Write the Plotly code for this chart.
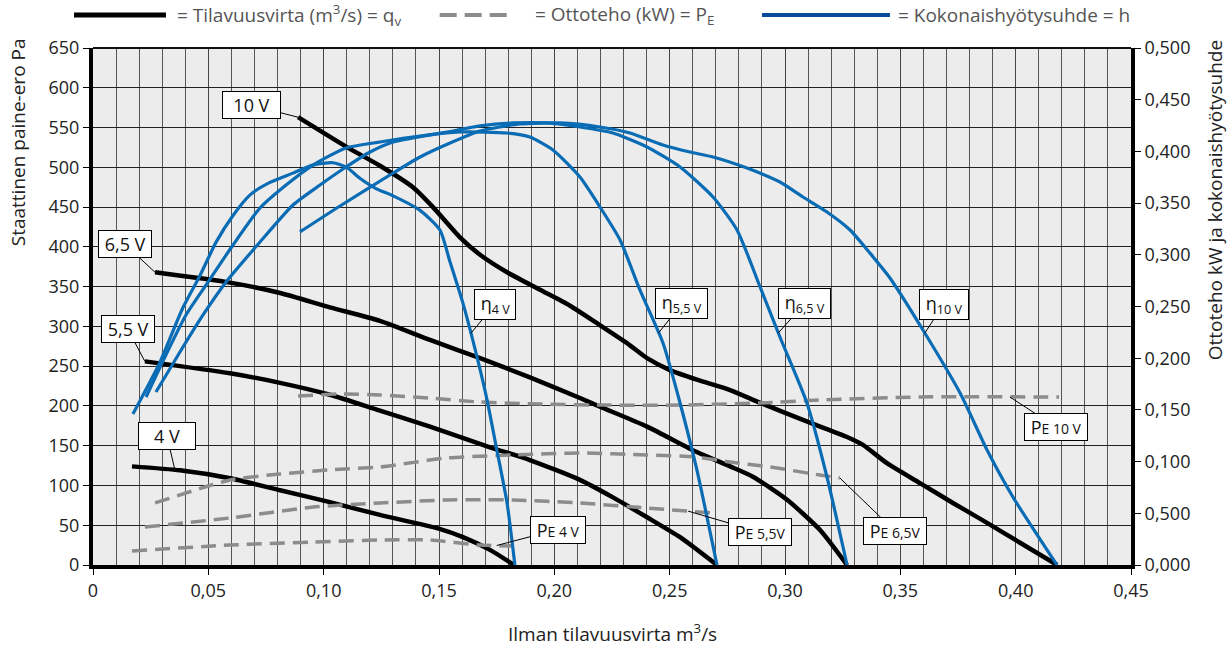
import numpy as np
import plotly.graph_objects as go

# ---------------- DATA ----------------
# Static pressure (Pa) vs air flow (m3/s) - left axis
q_10v = [0.0889, 0.1097, 0.1244, 0.1387, 0.1474, 0.1591, 0.1678, 0.1795, 0.1938, 0.2068, 0.2185, 0.2315,
         0.2402, 0.2501, 0.2618, 0.2762, 0.2892, 0.3108, 0.3269, 0.3338, 0.3442, 0.3585, 0.3728, 0.3876, 0.4019, 0.418]
p_10v = [563, 526, 502, 475, 450, 412, 390, 368, 346, 326, 304, 279,
         260, 245, 233, 220, 204, 179, 161, 151, 128, 103, 78, 53, 28, 0]

q_65v = [0.0269, 0.0594, 0.0811, 0.1027, 0.1244, 0.1461, 0.1678, 0.1894, 0.2111, 0.2198, 0.2402, 0.2618,
         0.2762, 0.2861, 0.3009, 0.3152, 0.3269]
p_65v = [368, 355, 342, 324, 307, 283, 260, 236, 210, 199, 174, 142, 124, 111, 82, 44, 0]

q_55v = [0.0225, 0.0594, 0.0811, 0.1027, 0.1244, 0.1461, 0.1721, 0.1894, 0.2111, 0.2254, 0.2402, 0.2545, 0.2705]
p_55v = [256, 241, 229, 214, 194, 174, 148, 132, 107, 85, 60, 35, 0]

q_4v = [0.0169, 0.0377, 0.0594, 0.0811, 0.1027, 0.1244, 0.1495, 0.1604, 0.1721, 0.1825]
p_4v = [124, 119, 109, 94, 79, 63, 46, 35, 19, 0]

# Total efficiency (right axis)
qe_4v = [0.0173, 0.0290, 0.0390, 0.0464, 0.0533, 0.0607, 0.0681, 0.0767, 0.0867, 0.0954, 0.1040, 0.1097,
         0.1157, 0.1227, 0.1301, 0.1418, 0.1504, 0.1548, 0.1604, 0.1665, 0.1708, 0.1751, 0.1795, 0.1829]
eta_4v = [0.146, 0.196, 0.249, 0.280, 0.312, 0.338, 0.358, 0.370, 0.379, 0.387, 0.389, 0.385,
          0.374, 0.364, 0.357, 0.343, 0.324, 0.293, 0.253, 0.201, 0.160, 0.111, 0.060, 0.0]

qe_55v = [0.0230, 0.0316, 0.0403, 0.0499, 0.0607, 0.0724, 0.0837, 0.0954, 0.1097, 0.1244, 0.1418, 0.1591,
          0.1795, 0.1894, 0.1994, 0.2111, 0.2198, 0.2285, 0.2371, 0.2471, 0.2545, 0.2618, 0.2705]
eta_55v = [0.1625, 0.2031, 0.2418, 0.2737, 0.3095, 0.3453, 0.3675, 0.3868, 0.4033, 0.4091, 0.4149, 0.4188,
           0.4178, 0.4139, 0.4014, 0.3752, 0.3462, 0.3143, 0.2660, 0.2147, 0.1567, 0.0919, 0.0]

qe_65v = [0.0273, 0.0377, 0.0477, 0.0577, 0.0724, 0.0867, 0.0984, 0.1097, 0.1201, 0.1301, 0.1387, 0.1535,
          0.1678, 0.1821, 0.1968, 0.2111, 0.2254, 0.2402, 0.2545, 0.2688, 0.2792, 0.2892, 0.2978, 0.3095,
          0.3182, 0.3269]
eta_65v = [0.1673, 0.2060, 0.2418, 0.2737, 0.3124, 0.3482, 0.3675, 0.3849, 0.3994, 0.4091, 0.4130, 0.4188,
           0.4246, 0.4275, 0.4275, 0.4236, 0.4178, 0.4043, 0.3849, 0.3559, 0.3240, 0.2689, 0.2205, 0.1567,
           0.0851, 0.0]

qe_10v = [0.0897, 0.1071, 0.1301, 0.1418, 0.1548, 0.1678, 0.1851, 0.2025, 0.2198, 0.2328, 0.2471, 0.2588,
          0.2688, 0.2835, 0.2978, 0.3078, 0.3182, 0.3282, 0.3368, 0.3455, 0.3598, 0.3759, 0.3876, 0.3988, 0.4179]
eta_10v = [0.3221, 0.3472, 0.3791, 0.3946, 0.4081, 0.4197, 0.4265, 0.4275, 0.4236, 0.4178, 0.4062, 0.3994,
           0.3946, 0.3839, 0.3704, 0.3559, 0.3414, 0.3240, 0.3017, 0.2776, 0.2273, 0.1663, 0.1112, 0.0658, 0.0]

# Input power (kW) - right axis
qp_10v = [0.0889, 0.107, 0.1244, 0.146, 0.1678, 0.194, 0.2198, 0.2545, 0.2892, 0.3152, 0.3585, 0.4188]
pe_10v = [0.1634, 0.1654, 0.1644, 0.1615, 0.1576, 0.1557, 0.1547, 0.1547, 0.1567, 0.1596, 0.1625, 0.1625]

qp_65v = [0.0269, 0.0594, 0.0811, 0.1027, 0.1244, 0.1535, 0.1821, 0.2111, 0.2402, 0.2618, 0.2762, 0.2935, 0.3152, 0.3238]
pe_65v = [0.060, 0.0822, 0.088, 0.092, 0.0948, 0.1035, 0.1064, 0.1083, 0.1064, 0.1044, 0.0996, 0.0948, 0.087, 0.0841]

qp_55v = [0.0225, 0.0594, 0.0954, 0.1244, 0.1535, 0.1821, 0.2111, 0.2402, 0.2688]
pe_55v = [0.0368, 0.0455, 0.0561, 0.0600, 0.0629, 0.0629, 0.0600, 0.0551, 0.0503]

qp_4v = [0.0169, 0.0594, 0.0954, 0.1244, 0.1461, 0.1678, 0.1825]
pe_4v = [0.0135, 0.0193, 0.0222, 0.0242, 0.0242, 0.0193, 0.0184]

x_tickvals = [0, 0.05, 0.10, 0.15, 0.20, 0.25, 0.30, 0.35, 0.40, 0.45]
x_ticktext = ["0", "0,05", "0,10", "0,15", "0,20", "0,25", "0,30", "0,35", "0,40", "0,45"]
y2_tickvals = [0, 0.05, 0.10, 0.15, 0.20, 0.25, 0.30, 0.35, 0.40, 0.45, 0.50]
y2_ticktext = ["0,000", "0,500", "0,100", "0,150", "0,200", "0,250", "0,300", "0,350", "0,400", "0,450", "0,500"]

# ---------------- STYLE ----------------
FONT = "Open Sans"
BLACK = "#000000"
BLUE = "#0a6cb4"
BLUE_LEG = "#0b4c98"
GRAY = "#8c8c8c"
TICK_SIZE = 18
TEXT_SIZE = 19

fig = go.Figure()

def add(x, y, color, width, yaxis, dash=None):
    fig.add_trace(go.Scatter(
        x=x, y=y, mode="lines", yaxis=yaxis, showlegend=False, hoverinfo="skip",
        line=dict(color=color, width=width, shape="spline", smoothing=0.6, dash=dash)))

for qx, py in [(qp_10v, pe_10v), (qp_65v, pe_65v), (qp_55v, pe_55v), (qp_4v, pe_4v)]:
    add(qx, py, GRAY, 3.5, "y2", dash="15px,8px")
for qx, py in [(q_10v, p_10v), (q_65v, p_65v), (q_55v, p_55v), (q_4v, p_4v)]:
    add(qx, py, BLACK, 4.5, "y")
for qx, py in [(qe_4v, eta_4v), (qe_55v, eta_55v), (qe_65v, eta_65v), (qe_10v, eta_10v)]:
    add(qx, py, BLUE, 3.2, "y2")

# ---------------- LABELS ----------------
ann = []
def label(text, x, y, yref, ax, ay):
    ann.append(dict(x=x, y=y, xref="x", yref=yref, text=text, showarrow=True,
                    arrowhead=0, arrowwidth=1, arrowcolor="#000", ax=ax, ay=ay,
                    bgcolor="white", bordercolor="#000", borderwidth=1, borderpad=1,
                    font=dict(family=FONT, size=18, color="#111")))

label("&nbsp;&nbsp;10 V&nbsp;&nbsp;", q_10v[0], p_10v[0], "y", -47, -12)
label("&nbsp;6,5 V&nbsp;", q_65v[0], p_65v[0], "y", -30, -28)
label("&nbsp;5,5 V&nbsp;", q_55v[0], p_55v[0], "y", -17, -32)
xa = 0.0355
label("&nbsp;&nbsp;&nbsp;4 V&nbsp;&nbsp;&nbsp;", xa, float(np.interp(xa, q_4v, p_4v)), "y", -8, -34)

def eta_label(sub, xq, qs, es, ax):
    label("&nbsp;η<sub>" + sub + "</sub>&nbsp;", xq, float(np.interp(xq, qs, es)), "y2", ax, -29)

eta_label("4 V", 0.1638, qe_4v, eta_4v, 24)
eta_label("5,5 V", 0.2452, qe_55v, eta_55v, 23)
eta_label("6,5 V", 0.2971, qe_65v, eta_65v, 26)
eta_label("10 V", 0.3606, qe_10v, eta_10v, 19)

def pe_label(sub, xq, qs, ps, ax, ay):
    label("&nbsp;P<span style='font-size:14px'>" + sub + "</span>&nbsp;", xq,
          float(np.interp(xq, qs, ps)), "y2", ax, ay)

pe_label("E 10 V", 0.3975, qp_10v, pe_10v, 46, 30)
pe_label("E 6,5V", qp_65v[-1], qp_65v, pe_65v, 55, 53)
pe_label("E 5,5V", 0.258, qp_55v, pe_55v, 72, 21)
pe_label("E 4 V", 0.175, qp_4v, pe_4v, 61, -16)

# axis titles
ann.append(dict(xref="paper", yref="paper", x=-0.072, y=1.0232, yanchor="top", xanchor="center",
                text="Staattinen paine-ero Pa", textangle=-90, showarrow=False,
                font=dict(family=FONT, size=TEXT_SIZE, color="#222")))
ann.append(dict(xref="paper", yref="paper", x=1.081, y=1.019, yanchor="top", xanchor="center",
                text="Ottoteho kW ja kokonaishyötysuhde", textangle=-90, showarrow=False,
                font=dict(family=FONT, size=TEXT_SIZE, color="#222")))
ann.append(dict(xref="paper", yref="paper", x=0.5, y=-0.1315, yanchor="middle", xanchor="center",
                text="Ilman tilavuusvirta m<sup>3</sup>/s", showarrow=False,
                font=dict(family=FONT, size=TEXT_SIZE, color="#222")))

# custom legend
leg_y = 1.0638
shapes = [
    dict(type="line", xref="paper", yref="paper", x0=-0.0183, x1=0.0703, y0=leg_y, y1=leg_y,
         line=dict(color=BLACK, width=5)),
    dict(type="line", xref="paper", yref="paper", x0=0.334, x1=0.404, y0=leg_y, y1=leg_y,
         line=dict(color=GRAY, width=4, dash="17px,8px")),
    dict(type="line", xref="paper", yref="paper", x0=0.6445, x1=0.7678, y0=leg_y, y1=leg_y,
         line=dict(color=BLUE_LEG, width=4)),
    dict(type="line", xref="paper", yref="paper", x0=0, x1=1, y0=1, y1=1,
         line=dict(color="#111", width=2)),
]
for xt, txt in [(0.079, "= Tilavuusvirta (m<sup>3</sup>/s) = q<sub>v</sub>"),
                (0.4239, "= Ottoteho (kW) = P<sub>E</sub>"),
                (0.7736, "= Kokonaishyötysuhde = h")]:
    ann.append(dict(xref="paper", yref="paper", x=xt, y=leg_y, xanchor="left", yanchor="middle",
                    text=txt, showarrow=False, font=dict(family=FONT, size=TEXT_SIZE, color="#555")))

fig.update_layout(
    width=1232, height=650,
    margin=dict(l=93, r=101, t=48, b=85),
    paper_bgcolor="white", plot_bgcolor="#ececec",
    font=dict(family=FONT, size=TICK_SIZE, color="#222"),
    showlegend=False,
    annotations=ann, shapes=shapes,
    xaxis=dict(range=[0, 0.45], tickmode="array", tickvals=x_tickvals, ticktext=x_ticktext,
               showgrid=True, gridcolor="#444", gridwidth=1,
               minor=dict(dtick=0.01, tick0=0, showgrid=True, gridcolor="#555", gridwidth=1, ticks=""),
               showline=True, linecolor="#000", linewidth=4, ticks="outside", ticklen=6,
               tickcolor="#000", zeroline=False, tickfont=dict(size=TICK_SIZE, color="#222")),
    yaxis=dict(range=[0, 650], dtick=50, tick0=0, showgrid=True, gridcolor="#222", gridwidth=1,
               showline=True, linecolor="#000", linewidth=4, ticks="outside", ticklen=6,
               tickcolor="#000", zeroline=False, tickfont=dict(size=TICK_SIZE, color="#222")),
    yaxis2=dict(range=[0, 0.5], overlaying="y", side="right", tickmode="array",
                tickvals=y2_tickvals, ticktext=y2_ticktext, showgrid=False,
                showline=True, linecolor="#000", linewidth=4, ticks="outside", ticklen=6,
                tickcolor="#000", zeroline=False, tickfont=dict(size=TICK_SIZE, color="#222")),
)

# remove the default 8px page margin so the figure fills the window exactly
fig.write_html("out.html", config={"displayModeBar": False},
               post_script="document.body.style.margin='0';")
